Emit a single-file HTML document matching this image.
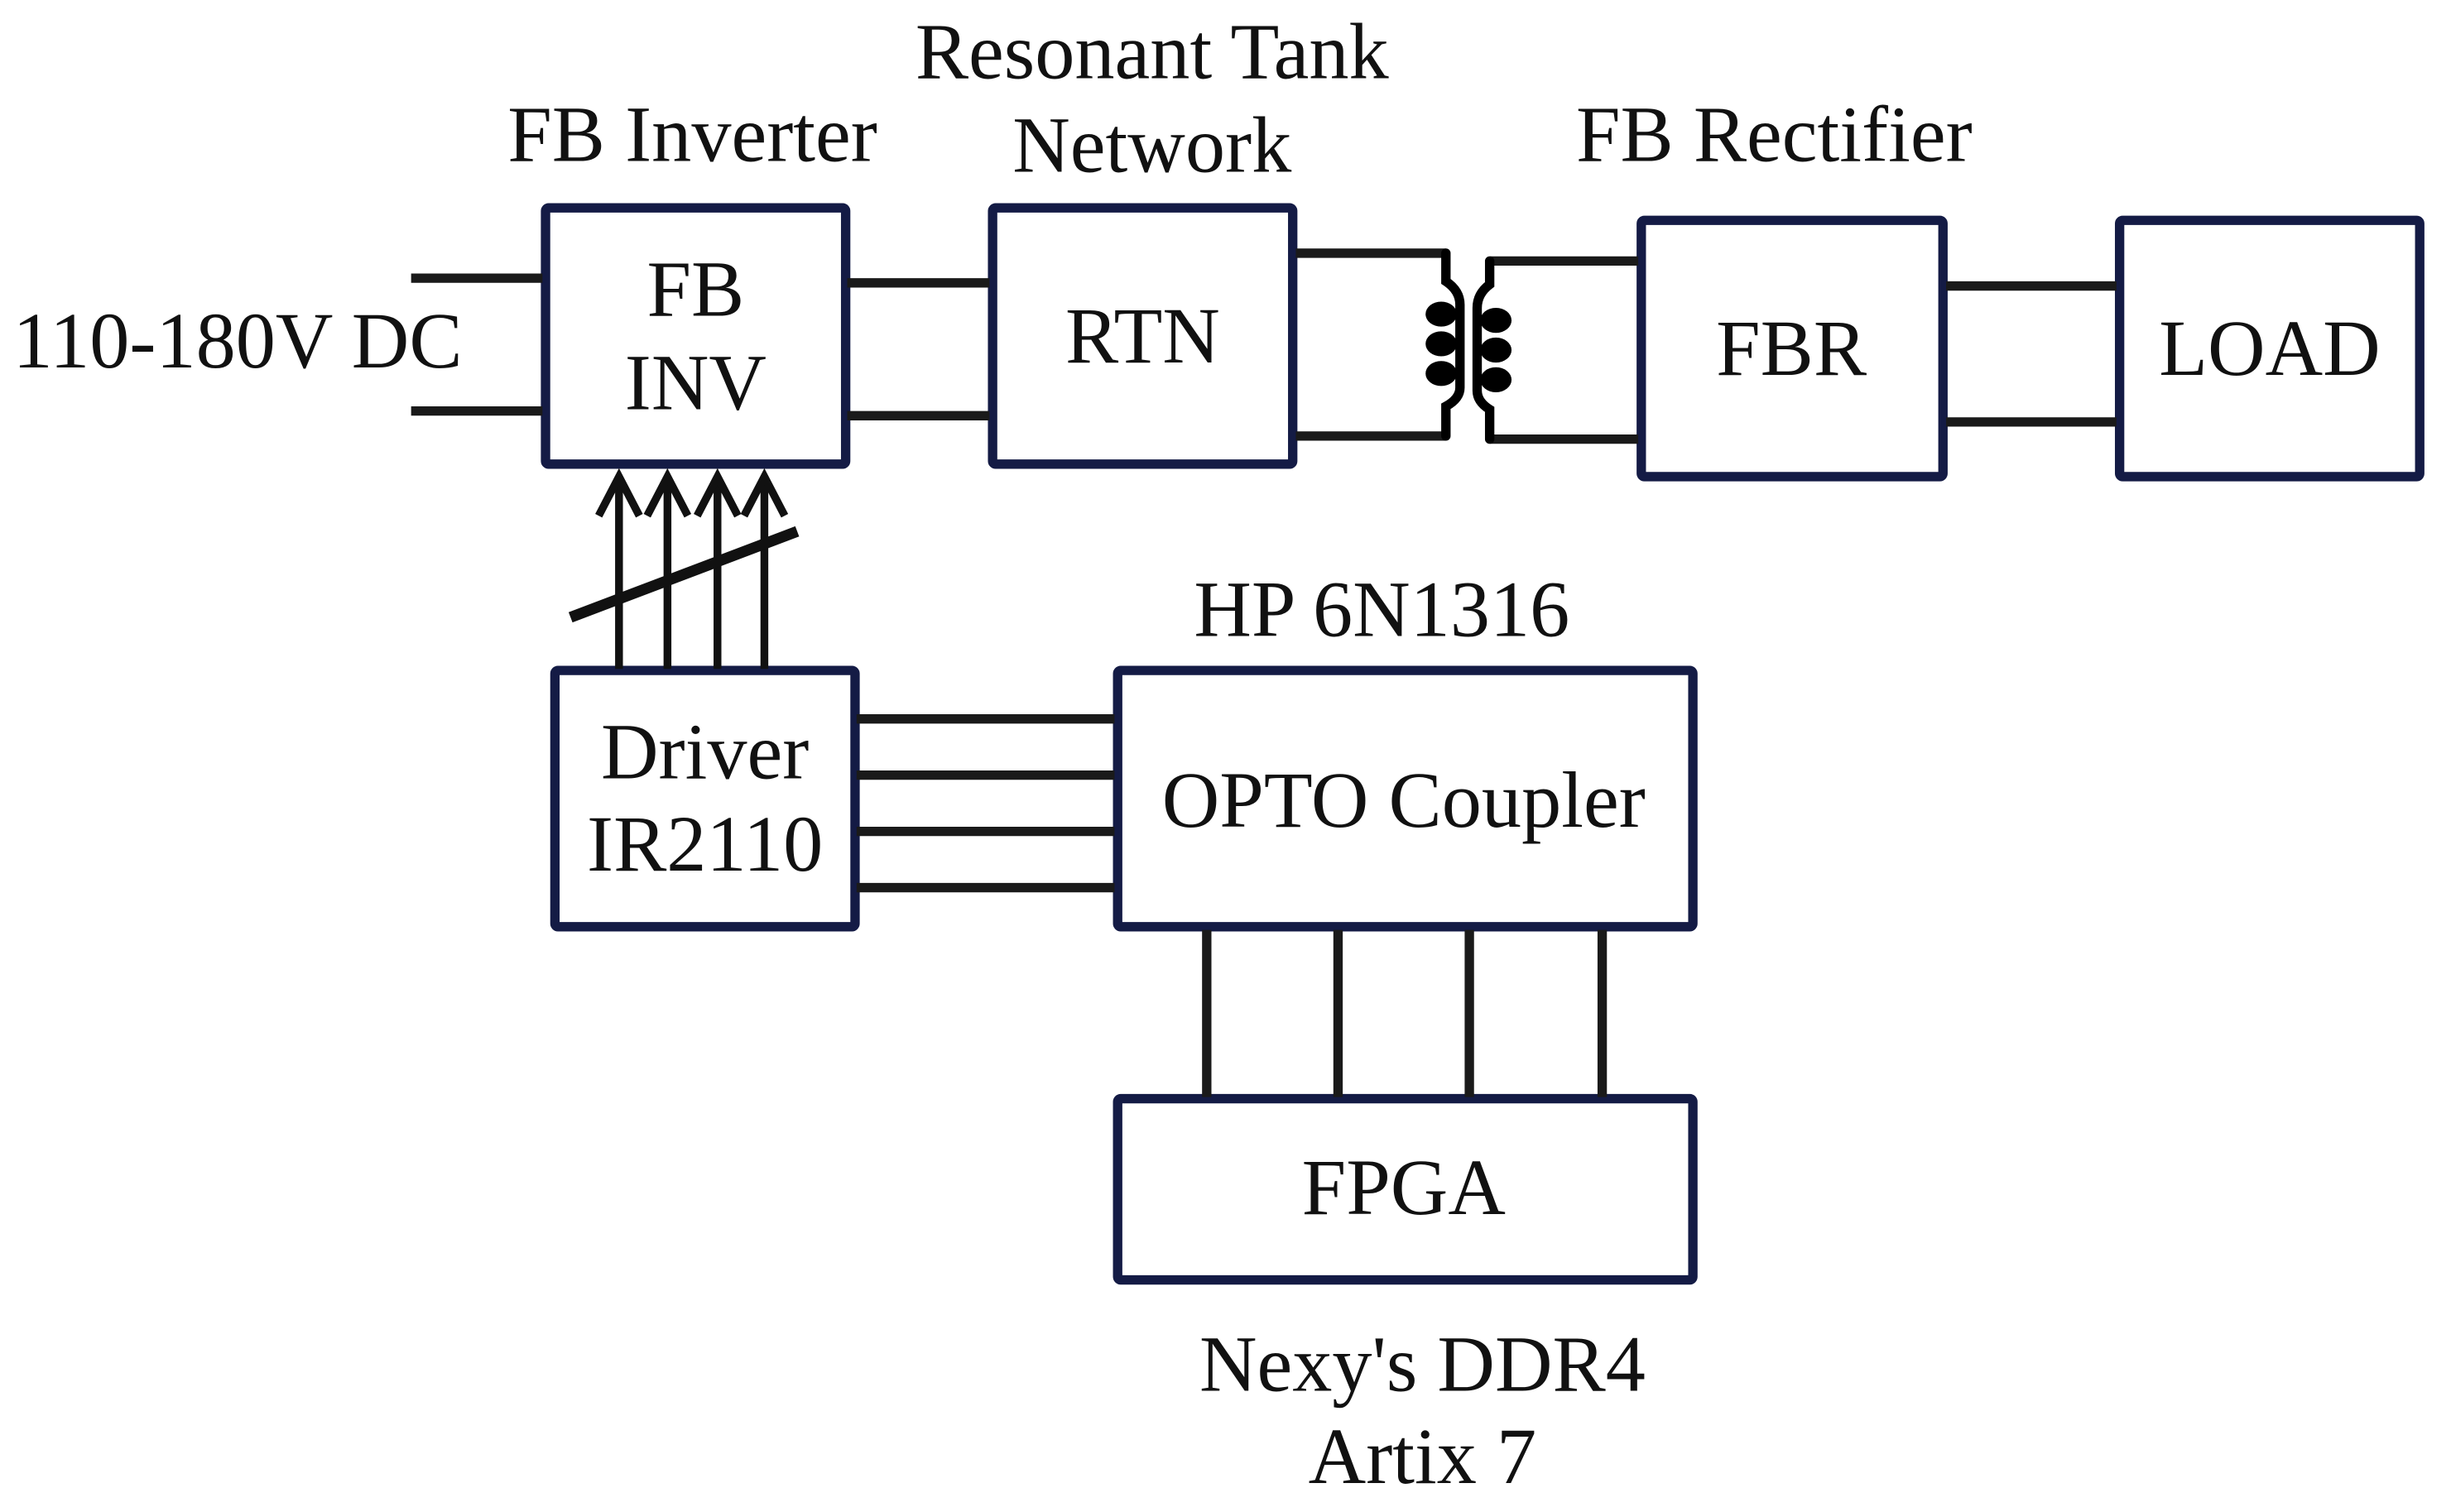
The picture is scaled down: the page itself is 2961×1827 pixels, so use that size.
<!DOCTYPE html>
<html><head><meta charset="utf-8"><style>
html,body{margin:0;padding:0;background:#fff;}
svg{display:block;}
text{font-family:"Liberation Serif",serif;fill:#111;}
</style></head><body>
<svg width="2961" height="1827" viewBox="0 0 1568 967.5" xmlns="http://www.w3.org/2000/svg">
<g fill="#fff" stroke="#141b45" stroke-width="6">
<rect x="349" y="133" width="192" height="164" rx="2"/>
<rect x="635" y="133" width="192" height="164" rx="2"/>
<rect x="1050" y="141" width="193" height="164" rx="2"/>
<rect x="1356" y="141" width="192" height="164" rx="2"/>
<rect x="355" y="429" width="192" height="164" rx="2"/>
<rect x="715" y="429" width="368" height="164" rx="2"/>
<rect x="715" y="703" width="368" height="116" rx="2"/>
</g>
<g stroke="#1a1a1a" stroke-width="6" fill="none">
<line x1="263" y1="178" x2="347" y2="178"/>
<line x1="263" y1="263" x2="347" y2="263"/>
<line x1="542" y1="181" x2="633" y2="181"/>
<line x1="542" y1="266" x2="633" y2="266"/>
<line x1="829" y1="162" x2="925" y2="162"/>
<line x1="829" y1="279" x2="925" y2="279"/>
<line x1="953" y1="167" x2="1048" y2="167"/>
<line x1="953" y1="281" x2="1048" y2="281"/>
<line x1="1245" y1="183" x2="1354" y2="183"/>
<line x1="1245" y1="270" x2="1354" y2="270"/>
<line x1="548" y1="460" x2="713" y2="460"/>
<line x1="548" y1="496" x2="713" y2="496"/>
<line x1="548" y1="532" x2="713" y2="532"/>
<line x1="548" y1="568" x2="713" y2="568"/>
<line x1="772" y1="595" x2="772" y2="702"/>
<line x1="856" y1="595" x2="856" y2="702"/>
<line x1="940" y1="595" x2="940" y2="702"/>
<line x1="1025" y1="595" x2="1025" y2="702"/>
</g>
<!-- transformer -->
<g stroke="#000" stroke-width="6" fill="none" stroke-linecap="round">
<path d="M925 162 V180 Q934 186 934 195 V248 Q934 255 925 260 V279"/>
<path d="M953 167 V182 Q945 188 945 197 V250 Q945 257 953 262 V281"/>
</g>
<g fill="#000">
<ellipse cx="922" cy="201" rx="10" ry="8"/>
<ellipse cx="922" cy="220" rx="10" ry="8"/>
<ellipse cx="922" cy="239" rx="10" ry="8"/>
<ellipse cx="957" cy="205" rx="10" ry="8"/>
<ellipse cx="957" cy="224" rx="10" ry="8"/>
<ellipse cx="957" cy="243" rx="10" ry="8"/>
</g>
<!-- arrows -->
<g stroke="#111" stroke-width="5" fill="none" stroke-linejoin="miter">
<line x1="396" y1="428" x2="396" y2="305"/>
<line x1="427" y1="428" x2="427" y2="305"/>
<line x1="459" y1="428" x2="459" y2="305"/>
<line x1="489" y1="428" x2="489" y2="305"/>
<path d="M383 330 L396 305 L409 330"/>
<path d="M414 330 L427 305 L440 330"/>
<path d="M446 330 L459 305 L472 330"/>
<path d="M476 330 L489 305 L502 330"/>
<line x1="365" y1="395" x2="510" y2="340" stroke-width="7"/>
</g>
<g font-size="51" text-anchor="middle">
<text x="737" y="50">Resonant Tank</text>
<text x="737" y="110">Network</text>
<text x="443" y="103">FB Inverter</text>
<text x="1135" y="103">FB Rectifier</text>
<text x="152" y="235">110-180V DC</text>
<text x="445" y="202">FB</text>
<text x="445" y="262">INV</text>
<text x="731" y="232">RTN</text>
<text x="1146" y="240">FBR</text>
<text x="1452" y="240">LOAD</text>
<text x="451" y="498">Driver</text>
<text x="451" y="557">IR2110</text>
<text x="884" y="407">HP 6N1316</text>
<text x="898" y="529">OPTO Coupler</text>
<text x="898" y="777">FPGA</text>
<text x="910" y="890">Nexy's DDR4</text>
<text x="910" y="949">Artix 7</text>
</g>
</svg>
</body></html>
